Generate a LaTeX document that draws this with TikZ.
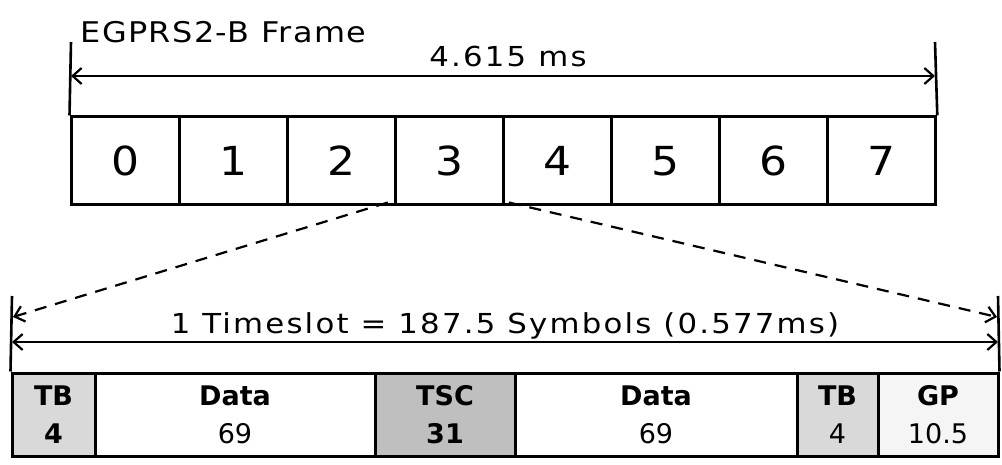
\documentclass[tikz,border=0pt]{standalone}
\usepackage{fontspec}
\setmainfont{DejaVu Sans}
\newfontfamily\widefont[FakeStretch=1.12,LetterSpace=8]{DejaVu Sans}
\newfontfamily\titlefont[FakeStretch=1.12,LetterSpace=5]{DejaVu Sans}
\newfontfamily\digitfont[FakeStretch=1.1]{DejaVu Sans}
\usetikzlibrary{arrows.meta}
\begin{document}
\begin{tikzpicture}[x=1pt,y=-1pt,
  line width=3pt,
  fbox/.style={draw,rectangle,minimum width=108.1pt,minimum height=88pt,inner sep=0pt,font=\digitfont\fontsize{40}{40}\selectfont},
  sbox/.style={draw,rectangle,minimum height=83pt,inner sep=0pt,align=center,font=\fontsize{27}{38}\selectfont},
  tick/.style={line width=2.6pt},
  dimarrow/.style={line width=2.2pt,{Straight Barb[length=9pt,width=16pt,line width=2.2pt]}-{Straight Barb[length=9pt,width=16pt,line width=2.2pt]}},
  zoomarrow/.style={line width=2.2pt,dash pattern=on 12pt off 9pt,-{Straight Barb[length=9pt,width=16pt,line width=2.2pt]}},
  lbl/.style={inner sep=0pt}
]
\useasboundingbox (0,0) rectangle (1002,465);
% top frame
\foreach \i in {0,...,7}{
  \node[fbox] (b\i) at ({71+108.1*(\i+0.5)},161) {\i};
}
\coordinate (tl) at (71,42);
\coordinate (tr) at (935,42);
\draw[tick] (tl) -- (b0.north west);
\draw[tick] (tr) -- (b7.north east);
\coordinate (al) at (71,76);
\coordinate (ar) at (935,76);
\draw[dimarrow] (al) -- (ar);
\node[lbl,anchor=base,font=\widefont\fontsize{27.5}{27.5}\selectfont] (ft) at (508,67) {4.615 ms};
\node[lbl,anchor=base west,font=\titlefont\fontsize{28.5}{28.5}\selectfont] (title) at (79,43) {EGPRS2-B Frame};
% bottom timeslot
\node[sbox,fill=gray!30,minimum width=83pt,font=\bfseries\fontsize{27}{38}\selectfont] (s1) at (53.5,414.5) {TB\\4};
\node[sbox,minimum width=280pt] (s2) at (235,414.5) {\textbf{Data}\\69};
\node[sbox,fill=gray!50,minimum width=140pt,font=\bfseries\fontsize{27}{38}\selectfont] (s3) at (445,414.5) {TSC\\31};
\node[sbox,minimum width=282pt] (s4) at (656,414.5) {\textbf{Data}\\69};
\node[sbox,fill=gray!30,minimum width=81pt] (s5) at (837.5,414.5) {\textbf{TB}\\4};
\node[sbox,fill=gray!8,minimum width=120pt] (s6) at (938,414.5) {\textbf{GP}\\10.5};
\coordinate (bl) at (12,296);
\coordinate (br) at (998,296);
\draw[tick] (bl) -- (s1.north west);
\draw[tick] (br) -- (s6.north east);
\coordinate (tsl) at (12,342);
\coordinate (tsr) at (998,342);
\draw[dimarrow] (tsl) -- (tsr);
\node[lbl,anchor=base,font=\widefont\fontsize{27.5}{27.5}\selectfont] (tst) at (505,334) {1 Timeslot = 187.5 Symbols (0.577ms)};
% zoom lines
\coordinate (zl) at (13,317);
\coordinate (zr) at (997,317);
\draw[zoomarrow] ([xshift=-6pt,yshift=4pt]b3.south west) -- (zl);
\draw[zoomarrow] ([xshift=4pt,yshift=4pt]b3.south east) -- (zr);
\end{tikzpicture}
\end{document}
